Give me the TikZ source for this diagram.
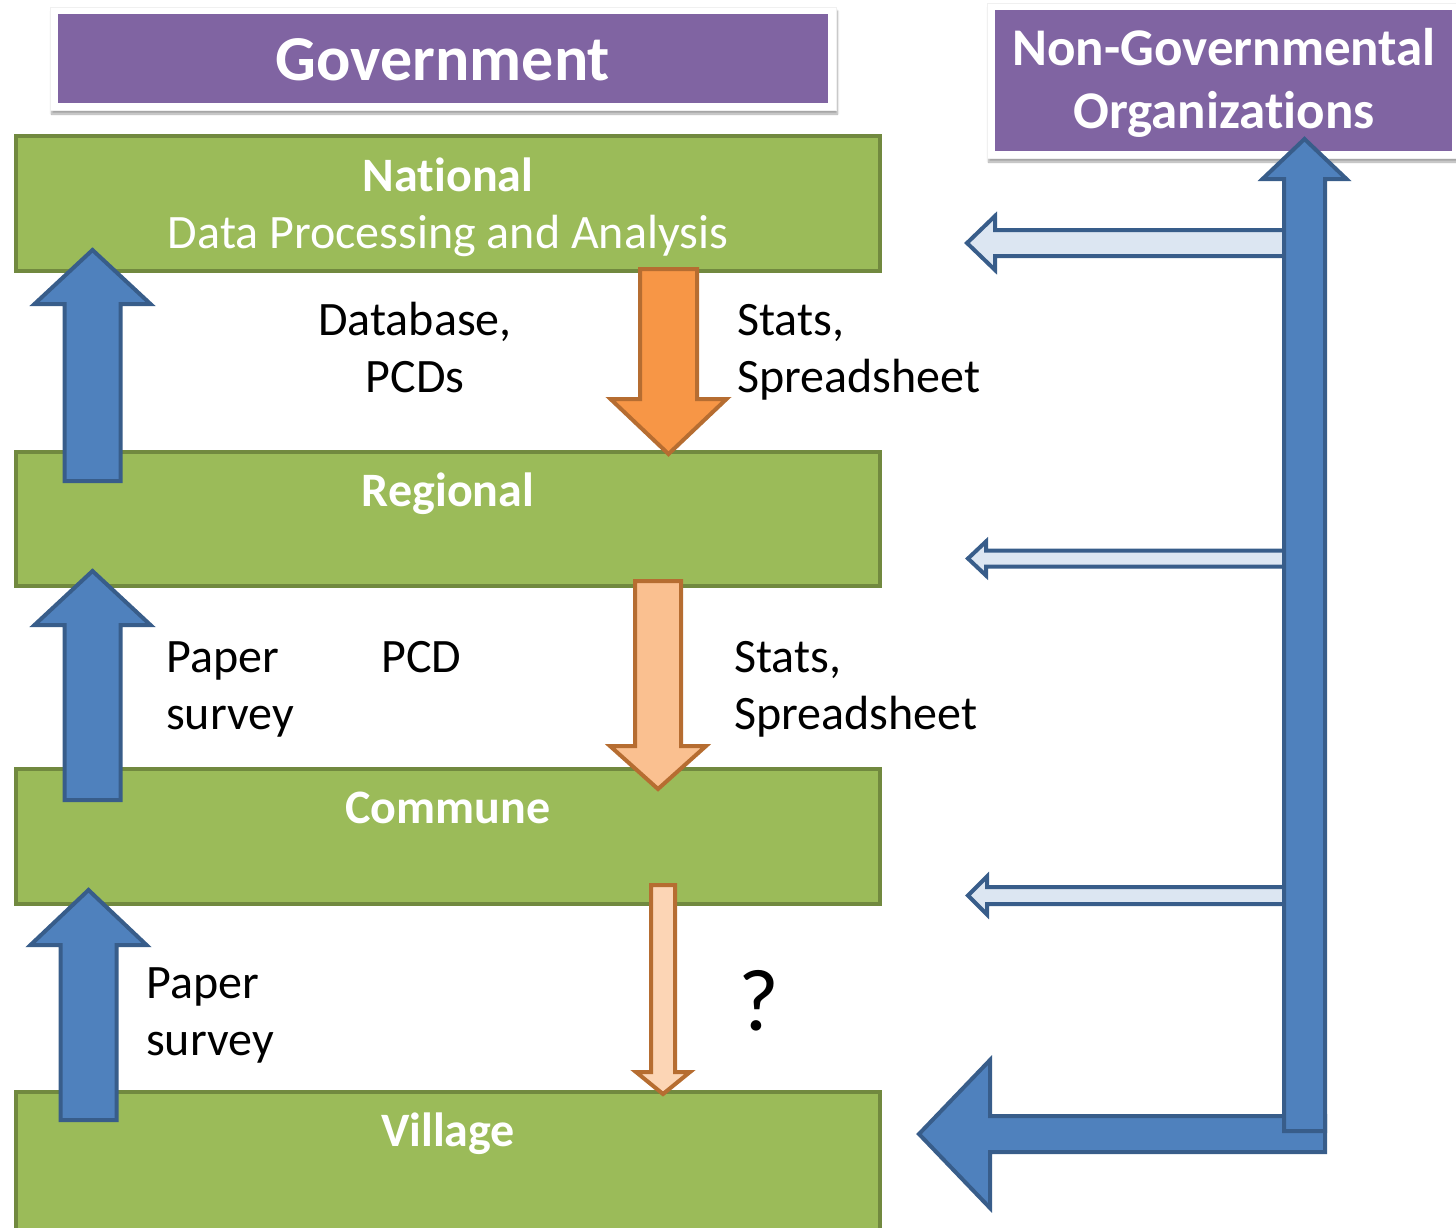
\documentclass[tikz,border=0pt]{standalone}
\usepackage{fontspec}
\setmainfont[Ligatures=NoCommon]{Carlito}
\usetikzlibrary{calc,shadows.blur}

\definecolor{lvlfill}{HTML}{9BBB59}
\definecolor{lvldraw}{HTML}{71893F}
\definecolor{hdrfill}{HTML}{8064A2}
\definecolor{bluefill}{HTML}{4F81BD}
\definecolor{bluedraw}{HTML}{385D8A}
\definecolor{paleblue}{HTML}{DCE6F2}
\definecolor{orangeA}{HTML}{F79646}
\definecolor{orangeB}{HTML}{FAC090}
\definecolor{orangeC}{HTML}{FCD5B5}
\definecolor{orangedraw}{HTML}{B66D31}

\newcommand\lblfont{\fontsize{48}{57}\selectfont}
\newcommand\hdrfont{\fontsize{64}{76}\selectfont\bfseries}
\newcommand\ngofont{\fontsize{53}{63}\selectfont\bfseries}

% block arrow: #1 style, #2 tail coordinate, #3 tip coordinate,
% #4 shaft half width, #5 head half width, #6 head length
\newcommand\blockarrow[6]{%
  \coordinate (#2-hb) at ($(#3)!#6!(#2)$);
  \draw[#1] ($(#2)!#4!90:(#3)$) -- ($(#2-hb)!#4!90:(#3)$)
    -- ($(#2-hb)!#5!90:(#3)$) -- (#3) -- ($(#2-hb)!#5!-90:(#3)$)
    -- ($(#2-hb)!#4!-90:(#3)$) -- ($(#2)!#4!-90:(#3)$) -- cycle;}

\tikzset{
  level/.style={draw=lvldraw, fill=lvlfill, line width=4pt, minimum width=864pt, inner sep=0pt},
  frame/.style={fill=white, draw=black!6, line width=0.8pt, inner sep=0pt,
    blur shadow={shadow xshift=1.5pt, shadow yshift=-4pt, shadow blur steps=6, shadow opacity=35}},
  hdr/.style={fill=hdrfill, inner sep=0pt},
  ttl/.style={text=white, font=\lblfont\bfseries, inner sep=0pt, anchor=base},
  sub/.style={text=white, font=\lblfont, inner sep=0pt, anchor=base},
  lbl/.style={text=black, font=\lblfont, inner sep=0pt},
  upblue/.style={fill=bluefill, draw=bluedraw, line width=4pt},
  paleleft/.style={fill=paleblue, draw=bluedraw, line width=4pt},
  downA/.style={fill=orangeA, draw=orangedraw, line width=4pt},
  downB/.style={fill=orangeB, draw=orangedraw, line width=4pt},
  downC/.style={fill=orangeC, draw=orangedraw, line width=4pt},
}

\begin{document}
\begin{tikzpicture}[x=1pt, y=-1pt]
\useasboundingbox (0,0) rectangle (1456,1227);

% headers
\node[frame, minimum width=786pt, minimum height=103pt] (govF) at (443,58.5) {};
\node[hdr, minimum width=770pt, minimum height=89pt] (gov) at (443,58.5) {};
\node[text=white, font=\hdrfont, inner sep=0pt, anchor=base] (govT) at (443,80) {Government};

\node[frame, minimum width=483pt, minimum height=155pt] (ngoF) at (1228.5,80.5) {};
\node[hdr, minimum width=457pt, minimum height=141pt] (ngo) at (1223.5,80.5) {};
\node[text=white, font=\ngofont, inner sep=0pt, anchor=base] (ngoT1) at (1224,65) {Non-Governmental};
\node[text=white, font=\ngofont, inner sep=0pt, anchor=base] (ngoT2) at (1224,128) {Organizations};

% administrative levels
\node[level, minimum height=135pt] (nat) at (448,203.5) {};
\node[level, minimum height=134pt] (reg) at (448,519) {};
\node[level, minimum height=135pt] (com) at (448,836.5) {};
\node[level, minimum height=148pt] (vil) at (448,1166) {};

\node[ttl] (natT) at (448,191) {National};
\node[sub] (natS) at (448,248) {Data Processing and Analysis};
\node[ttl] (regT) at (448,506) {Regional};
\node[ttl] (comT) at (448,823) {Commune};
\node[ttl] (vilT) at (448,1146) {Village};

% upward reporting arrows
\coordinate (u1t) at (92.5,481);  \coordinate (u1h) at (92.5,250);
\coordinate (u2t) at (92.5,800);  \coordinate (u2h) at (92.5,571);
\coordinate (u3t) at (88.5,1120); \coordinate (u3h) at (88.5,890);
\blockarrow{upblue}{u1t}{u1h}{28pt}{58pt}{54pt}
\blockarrow{upblue}{u2t}{u2h}{28pt}{58pt}{54pt}
\blockarrow{upblue}{u3t}{u3h}{28pt}{58pt}{55pt}

% downward feedback arrows
\coordinate (o1t) at (668.5,269); \coordinate (o1h) at (668.5,454);
\coordinate (o2t) at (658,581);   \coordinate (o2h) at (658,789);
\coordinate (o3t) at (663,885);   \coordinate (o3h) at (663,1094);
\blockarrow{downA}{o1t}{o1h}{28.5pt}{58pt}{55pt}
\blockarrow{downB}{o2t}{o2h}{23pt}{48pt}{43pt}
\blockarrow{downC}{o3t}{o3h}{12pt}{27pt}{22pt}

% NGO arrows
\coordinate (p1t) at (1300,243);   \coordinate (p1h) at (967,243);
\coordinate (p2t) at (1300,558.5); \coordinate (p2h) at (968,558.5);
\coordinate (p3t) at (1300,895.5); \coordinate (p3h) at (968,895.5);
\blockarrow{paleleft}{p1t}{p1h}{13pt}{27pt}{28pt}
\blockarrow{paleleft}{p2t}{p2h}{8pt}{17pt}{18pt}
\blockarrow{paleleft}{p3t}{p3h}{8.5pt}{19pt}{19pt}

\coordinate (bht) at (1325,1134);   \coordinate (bhh) at (919,1134);
\coordinate (bvt) at (1304.5,1131); \coordinate (bvh) at (1304.5,139);
\blockarrow{upblue}{bht}{bhh}{18pt}{74pt}{71pt}
\blockarrow{upblue}{bvt}{bvh}{20.5pt}{42pt}{40pt}

% labels
\node[lbl, anchor=base] (db1) at (415,335) {Database,};
\node[lbl, anchor=base] (db2) at (415,392) {PCDs};
\node[lbl, anchor=base west] (st1) at (737,335) {Stats,};
\node[lbl, anchor=base west] (st2) at (737,392) {Spreadsheet};
\node[lbl, anchor=base west] (ps1) at (166,672) {Paper};
\node[lbl, anchor=base west] (ps2) at (166,729) {survey};
\node[lbl, anchor=base west] (pcd) at (381,672) {PCD};
\node[lbl, anchor=base west] (st3) at (734,672) {Stats,};
\node[lbl, anchor=base west] (st4) at (734,729) {Spreadsheet};
\node[lbl, anchor=base west] (ps3) at (146,998) {Paper};
\node[lbl, anchor=base west] (ps4) at (146,1055) {survey};
\node[text=black, font=\fontsize{88}{100}\selectfont, inner sep=0pt, anchor=base west] (q) at (738,1030) {?};
\end{tikzpicture}
\end{document}
